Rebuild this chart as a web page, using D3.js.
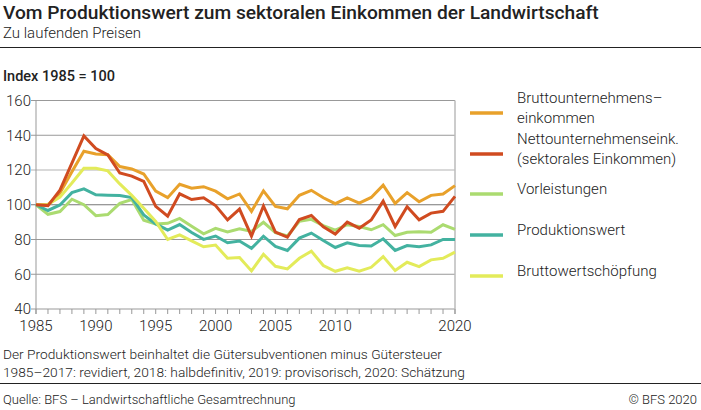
<!DOCTYPE html>
<html>
<head>
<meta charset="utf-8">
<script src="https://cdn.jsdelivr.net/npm/d3@7"></script>
<style>
  body { margin: 0; background: #fff; }
  text { font-family: Roboto, "Noto Sans", sans-serif; fill: #222; }
</style>
</head>
<body>
<svg id="chart" width="701" height="410"></svg>
<script>
// years 1985..2020
const years = d3.range(1985, 2021);

const bruttoUnternehmen = [100, 100, 106.7, 119, 130.8, 129.2, 128.8, 122, 120.6, 117.7, 107.9, 104.1, 111.8, 109.5, 110.4, 107.8, 103.4, 106.2,
  96.2, 108, 99, 97.7, 105.4, 108.3, 104, 100.6, 104, 101, 104.2, 111.3, 100.8, 107, 101.7, 105.4, 106.2, 111];
const nettoUnternehmen = [100, 99.5, 108.4, 124, 139.6, 132.4, 128.7, 118.3, 116.5, 113.4, 99.1, 93.4, 106.3, 103, 104, 99.5, 91.3, 97.5,
  82, 99.3, 84.2, 81.3, 91.5, 93.8, 87.3, 83.1, 90, 86.5, 91.2, 102.1, 87.5, 98.8, 91.3, 95.2, 96.2, 104.8];
const vorleistungen = [100, 94.5, 96.1, 103.2, 100, 93.7, 94.4, 100.8, 103, 91.1, 88.9, 89.3, 92.1, 87.6, 83.3, 86.4, 84.4, 86.1,
  84.6, 89.9, 84, 82, 90.5, 91.6, 88, 85.4, 88.5, 87.5, 85.6, 88.5, 82.3, 84.2, 84.5, 84.2, 88.5, 85.8];
const produktionswert = [100, 96.7, 99.9, 107, 109.1, 105.7, 105.5, 105.3, 104.1, 94.2, 89, 85.4, 88.6, 84, 80.1, 82, 78.1, 79.1,
  74.9, 81.9, 76, 73.7, 80.8, 83.7, 79.4, 75.4, 78.1, 76.5, 76.3, 80.4, 73.7, 76.5, 75.8, 76.9, 80, 80];
const bruttoWertschoepfung = [100, 100.2, 104.4, 112.5, 121, 121, 119.5, 112, 105.4, 98, 90.4, 80, 82.7, 79.2, 75.8, 76.8, 69.2, 69.6,
  61.9, 71.5, 64.6, 63.1, 69.2, 73.3, 65, 61.7, 63.7, 61.7, 64, 70.2, 62.1, 66.9, 64.4, 68.3, 69.2, 72.7];

const seriesNames = [["Bruttounternehmens\u2013", "einkommen"], ["Nettounternehmenseink.", "(sektorales Einkommen)"],
  ["Vorleistungen"], ["Produktionswert"], ["Bruttowertschöpfung"]];
const seriesValues = [bruttoUnternehmen, nettoUnternehmen, vorleistungen, produktionswert, bruttoWertschoepfung];
const seriesColors = ["#e8a12b", "#d04b20", "#abdb70", "#43b2a0", "#e3eb5a"];

const yTicks = [40, 60, 80, 100, 120, 140, 160];
const xTickLabels = [1985, 1990, 1995, 2000, 2005, 2010, 2020];

const svg = d3.select("#chart");
const x = d3.scaleLinear().domain([1985, 2020]).range([36, 455]);
const y = d3.scaleLinear().domain([40, 160]).range([309, 100.5]);

// header
svg.append("text").attr("x", 3).attr("y", 19).style("font-size", "19.2px").style("font-weight", 500).text("Vom Produktionswert zum sektoralen Einkommen der Landwirtschaft");
svg.append("text").attr("x", 3).attr("y", 38).style("font-size", "15px").style("font-weight", 300).text("Zu laufenden Preisen");
svg.append("line").attr("x1", 0).attr("x2", 701).attr("y1", 47.5).attr("y2", 47.5).attr("stroke", "#222");
svg.append("text").attr("x", 3).attr("y", 81).style("font-size", "14.5px").style("font-weight", 500).text("Index 1985 = 100");

// grid + y labels
const grid = svg.append("g");
grid.selectAll("line").data(yTicks).enter().append("line")
  .attr("x1", 31).attr("x2", x(2020))
  .attr("y1", d => y(d)).attr("y2", d => y(d))
  .attr("stroke", d => d === 100 ? "#777" : d === 120 ? "#ccc" : "#999")
  .attr("stroke-width", d => d === 120 ? 1.5 : 1);
grid.selectAll("text").data(yTicks).enter().append("text")
  .attr("x", 31).attr("y", d => y(d)).attr("dy", "0.35em")
  .attr("text-anchor", "end").style("font-size", "15px").style("font-weight", 300)
  .text(d => d);
grid.append("line").attr("x1", x(1985)).attr("x2", x(1985)).attr("y1", y(160)).attr("y2", y(40) + 5).attr("stroke", "#999");
grid.append("line").attr("x1", x(2020)).attr("x2", x(2020)).attr("y1", y(160)).attr("y2", y(40) + 5).attr("stroke", "#bbb").attr("stroke-width", 1.5);

// x axis
const xAxis = svg.append("g");
xAxis.selectAll("line").data(years).enter().append("line")
  .attr("x1", d => x(d)).attr("x2", d => x(d))
  .attr("y1", y(40)).attr("y2", y(40) + 5).attr("stroke", "#999");
xAxis.selectAll("text").data(xTickLabels).enter().append("text")
  .attr("x", d => x(d)).attr("y", 331).attr("text-anchor", "middle")
  .style("font-size", "15px").style("font-weight", 300).text(d => d);

// lines
const line = d3.line().x((d, i) => x(years[i])).y(d => y(d));
svg.append("g").selectAll("path").data(seriesValues).enter().append("path")
  .attr("d", line).attr("fill", "none")
  .attr("stroke", (d, i) => seriesColors[i]).attr("stroke-width", 3)
  .attr("stroke-linejoin", "miter");
// netto line sits on top of the orange one
svg.selectAll("path").filter((d, i) => i === 1).raise();

// legend
const legendY = [113, 154, 194, 235, 276];
const legend = svg.append("g").selectAll("g").data(seriesNames).enter().append("g")
  .attr("transform", (d, i) => `translate(470,${legendY[i]})`);
legend.append("line").attr("x1", 0).attr("x2", 33)
  .attr("stroke", (d, i) => seriesColors[i]).attr("stroke-width", 3.5);
legend.append("text").attr("x", 47)
  .attr("y", d => d.length > 1 ? -10 : 0).attr("dy", "0.35em")
  .style("font-size", "15px").style("font-weight", 300)
  .selectAll("tspan").data(d => d).enter().append("tspan")
  .attr("x", 47).attr("dy", (d, i) => i ? 20 : 0).text(d => d);

// footer
svg.append("text").attr("x", 3).attr("y", 359).style("font-size", "13px").style("font-weight", 300)
  .attr("textLength", 439).attr("lengthAdjust", "spacingAndGlyphs")
  .text("Der Produktionswert beinhaltet die Gütersubventionen minus Gütersteuer");
svg.append("text").attr("x", 3).attr("y", 377).style("font-size", "13px").style("font-weight", 300)
  .attr("textLength", 462).attr("lengthAdjust", "spacingAndGlyphs")
  .text("1985\u20132017: revidiert, 2018: halbdefinitiv, 2019: provisorisch, 2020: Schätzung");
svg.append("line").attr("x1", 0).attr("x2", 701).attr("y1", 383.5).attr("y2", 383.5).attr("stroke", "#222");
svg.append("text").attr("x", 3).attr("y", 404).style("font-size", "13px").style("font-weight", 300)
  .text("Quelle: BFS \u2013 Landwirtschaftliche Gesamtrechnung");
svg.append("text").attr("x", 697).attr("y", 404).attr("text-anchor", "end").style("font-size", "13px").style("font-weight", 300)
  .text("© BFS 2020");
</script>
</body>
</html>
